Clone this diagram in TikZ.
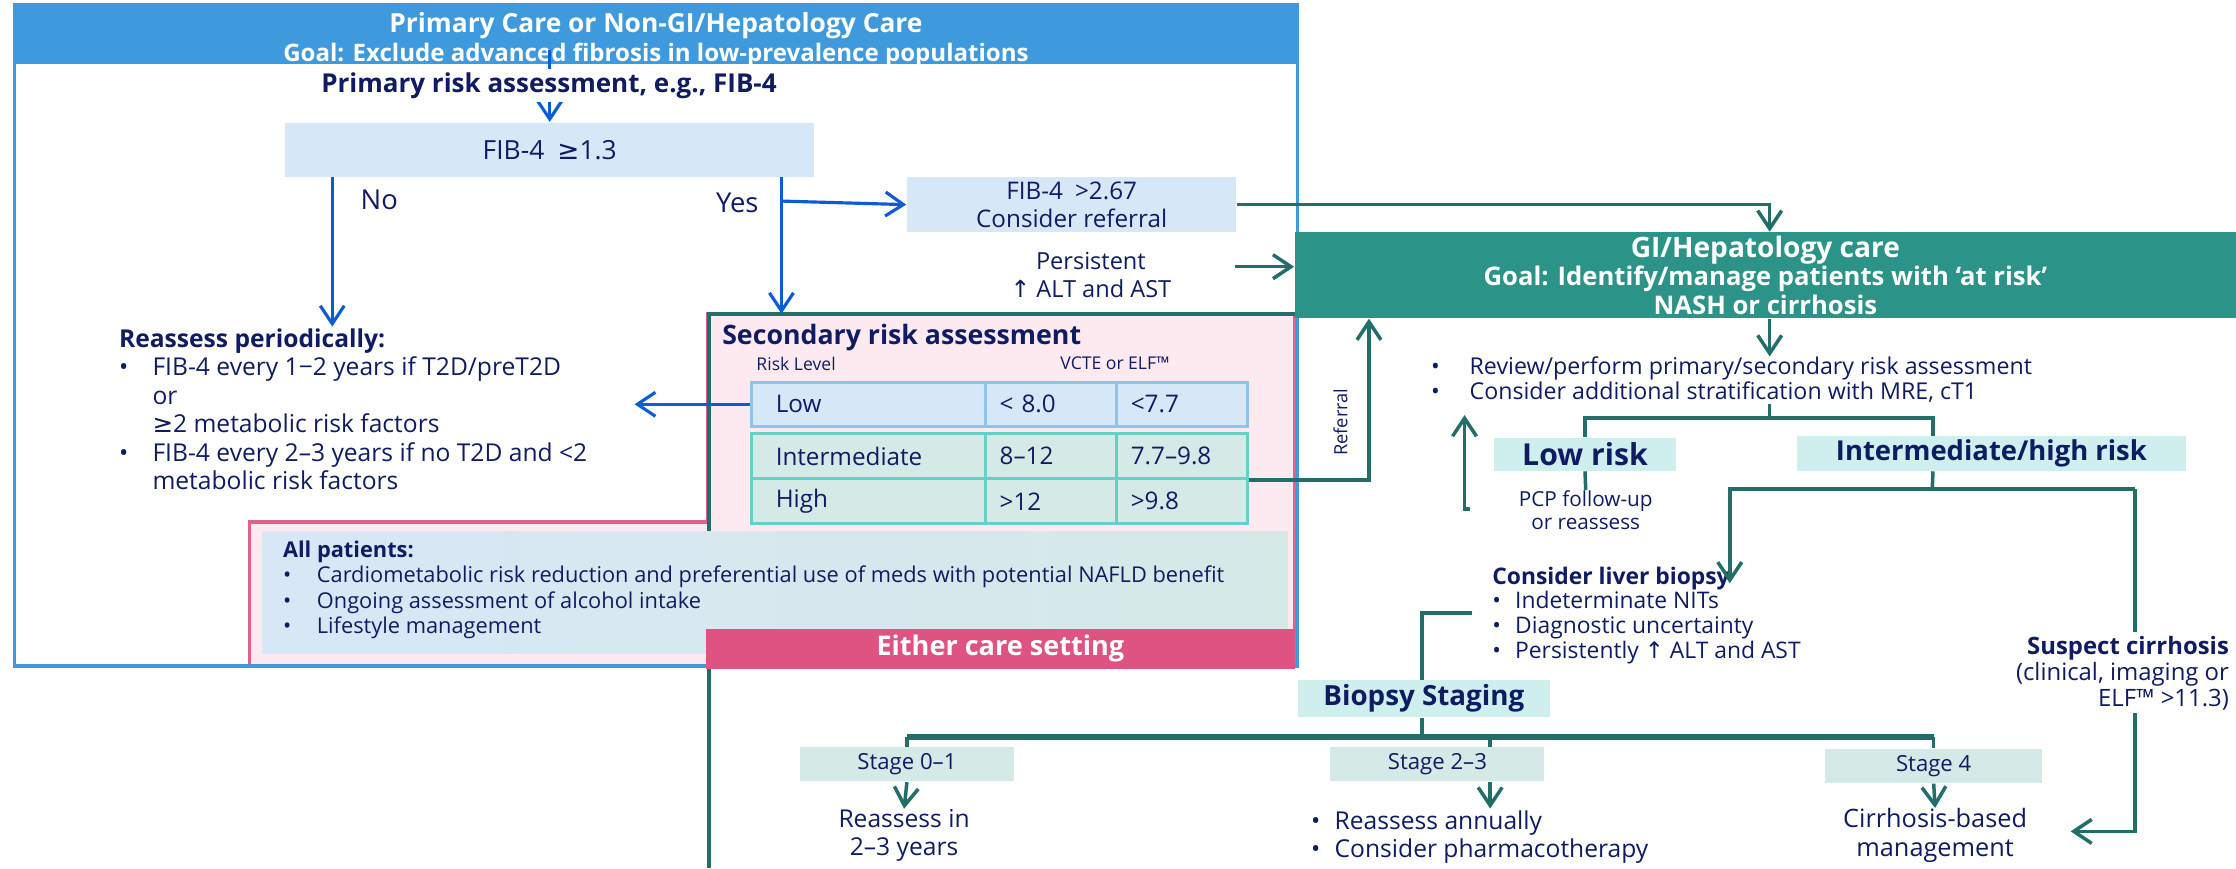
\documentclass[tikz,border=0pt]{standalone}
\usepackage{fontspec}
\setmainfont{Open Sans}
\newfontfamily\symfont{DejaVu Sans}
\newcommand\upa{{\symfont ↑}}
\newcommand\geqs{{\symfont ≥}}
\usetikzlibrary{arrows.meta,positioning}
\newlength\pu
\setlength\pu{0.1426mm}
\definecolor{cblue}{HTML}{3F99DD}
\definecolor{carrow}{HTML}{0B5CD6}
\definecolor{cnavy}{HTML}{0F1C64}
\definecolor{cteal}{HTML}{2B9387}
\definecolor{cline}{HTML}{226E68}
\definecolor{cpink}{HTML}{E0608A}
\definecolor{cpinkbg}{HTML}{FCEAF0}
\definecolor{cpbar}{HTML}{DE5381}
\definecolor{clb}{HTML}{D6E8F7}
\definecolor{clbb}{HTML}{8EC3EC}
\definecolor{cmint}{HTML}{D5E9E7}
\definecolor{cmintb}{HTML}{66D0C7}
\definecolor{ccyan}{HTML}{CEEFEE}
\definecolor{callb}{HTML}{D8E7F6}
\tikzset{
    fs/.style 2 args={font=\fontsize{#1}{#2}\selectfont},
    fsb/.style 2 args={font=\bfseries\fontsize{#1}{#2}\selectfont},
    bbox/.style={fill=clb, inner sep=0, align=center},
    cbox/.style={fill=ccyan, inner sep=0},
    sbox/.style={fill=cmint, inner sep=0, fs={6.3}{7.5}},
    rowlo/.style={draw=clbb, fill=clb, line width=.8pt, minimum height=31\pu, inner ysep=0, align=left, fs={6.9}{8}},
    rowhi/.style={draw=cmintb, fill=cmint, line width=.8pt, minimum height=31.5\pu, inner ysep=0, align=left, fs={6.9}{8}},
    barr/.style={draw=carrow, line width=.9pt, ->},
    tarr/.style={draw=cline, line width=1pt, ->},
    tln/.style={draw=cline, line width=1pt}
}

\begin{document}
\begin{tikzpicture}[x=\pu, y=-\pu, every node/.style={text=cnavy},
    >={Straight Barb[length=1.8mm,width=2.4mm]}]
\useasboundingbox (0,0) rectangle (1568,609);

% care setting regions
\draw[draw=cpink, fill=cpinkbg, line width=.9pt] (175,366) -- (496,366) -- (496,220) -- (908,220) -- (908,467) -- (175,467) -- cycle;
\draw[tln, line width=1.2pt] (497,609) -- (497,220) -- (908,220);
\node[draw=cblue, line width=1pt, minimum width=900\pu, minimum height=464\pu, inner sep=0] (pcare) at (460,235) {};
\node[fill=cblue, minimum width=900\pu, minimum height=42\pu, inner sep=0] (hdr) at (460,24) {};
\node[align=center, inner sep=0, text=white, fsb={7.5}{8.2}] (hdrt) at (460,28)
    {Primary Care or Non-GI/Hepatology Care\\{\fontsize{6.85}{8.2}\selectfont Goal: Exclude advanced fibrosis in low-prevalence populations}};

% primary assessment
\node[bbox, minimum width=371\pu, minimum height=38\pu, fs={7.5}{9}] (fib) at (385.5,105) {FIB-4\enspace\geqs1.3};
\coordinate (ctop) at (385.5,35);
\draw[barr] (ctop) -- (fib.north);
\node[fill=white, inner sep=1pt, fsb={7.4}{8.5}] (pra) at (385,60) {Primary risk assessment, e.g., FIB-4};

\node[fs={7.8}{9}] (no) at (266,140) {No};
\node[fs={7.8}{9}] (yes) at (517,142) {Yes};

\node[fs={7}{8.1}, anchor=north west, inner sep=0, align=left] (reas) at (83,229) {%
    \begin{tabular}{@{}l@{\hspace{17\pu}}l@{}}
    \multicolumn{2}{@{}l}{\bfseries Reassess periodically:}\\
    • & FIB-4 every 1−2 years if T2D/preT2D\\
      & or\\
      & \geqs2 metabolic risk factors\\
    • & FIB-4 every 2–3 years if no T2D and <2\\
      & metabolic risk factors
    \end{tabular}};
\coordinate (cno) at (233,124);
\draw[barr] (cno) -- (cno |- reas.north);

\coordinate (cyes) at (548,124);
\coordinate (cyb) at (548,141);
\coordinate (csec) at (548,220);
\draw[barr] (cyes) -- (csec);

\node[bbox, minimum width=231\pu, minimum height=39\pu, fs={6.9}{8}] (fib2) at (751.5,143.5) {FIB-4\enspace>2.67\\Consider referral};
\draw[barr] (cyb) -- (fib2.west);

\node[fs={6.7}{8.1}, align=center] (pers) at (765,193) {Persistent\\\upa\ ALT and AST};

% secondary assessment
\node[fsb={7.6}{9}, anchor=west, inner sep=0] (sra) at (506,237) {Secondary risk assessment};
\node[fs={5}{6}, anchor=west, inner sep=0] (rl) at (530,255) {Risk Level};
\node[fs={5}{6}, inner sep=0] (vc) at (782,255) {VCTE or ELF™};
\foreach \r/\y/\s/\a/\b/\c in {lo/283.5/rowlo/Low/< 8.0/<7.7, md/320/rowhi/Intermediate/8–12/7.7–9.8, hi/351.5/rowhi/High/>12/>9.8}{
    \node[\s, minimum width=164\pu, inner xsep=17\pu, text width=130\pu] (\r1) at (609,\y) {\a};
    \node[\s, minimum width=92\pu, inner xsep=10\pu, text width=72\pu] (\r2) at (737,\y) {\b};
    \node[\s, minimum width=92\pu, inner xsep=10\pu, text width=72\pu] (\r3) at (829,\y) {\c};
}
\coordinate (clow) at (445,283.5);
\draw[barr] (lo1.west) -- (clow);

% all patients
\node[left color=callb, right color=cmint, minimum width=719\pu, minimum height=85\pu, inner sep=0] (allp) at (543.5,415.5) {};
\node[fs={6.2}{7.2}, anchor=north west, inner sep=0, align=left] (allt) at (198,378) {%
    \begin{tabular}{@{}l@{\hspace{18\pu}}l@{}}
    \multicolumn{2}{@{}l}{\bfseries All patients:}\\
    • & Cardiometabolic risk reduction and preferential use of meds with potential NAFLD benefit\\
    • & Ongoing assessment of alcohol intake\\
    • & Lifestyle management
    \end{tabular}};
\node[fill=cpbar, minimum width=413\pu, minimum height=28\pu, inner sep=0, text=white, fsb={7.7}{9}] (either) at (701.5,455) {Either care setting};

% GI/Hepatology care
\node[fill=cteal, minimum width=660\pu, minimum height=60\pu, inner sep=0, align=center, text=white, fsb={7.3}{8.1}] (gi) at (1238,193)
    {{\fontsize{8}{8.1}\selectfont GI/Hepatology care}\\Goal: Identify/manage patients with ‘at risk’\\NASH or cirrhosis};
\draw[tarr] (fib2.east) -| ([xshift=3\pu]gi.north);
\coordinate (cpa) at (866,187);
\draw[tarr] (cpa) -- (cpa -| gi.west);

\coordinate (cref) at (960,0);
\draw[tarr] (md3.south east) -| (cref |- gi.south);
\node[fs={5.2}{6}, rotate=90, inner sep=0] (refl) at (940,296) {Referral};

\node[fs={6.6}{6.9}, anchor=north west, inner sep=0, align=left] (rev) at (1003,250) {%
    \begin{tabular}{@{}l@{\hspace{21\pu}}l@{}}
    • & Review/perform primary/secondary risk assessment\\
    • & Consider additional stratification with MRE, cT1
    \end{tabular}};
\draw[tarr] ([xshift=3\pu]gi.south) -- ([xshift=3\pu]gi.south |- rev.north);

\node[cbox, fsb={8.6}{9}, minimum width=127\pu, minimum height=23\pu] (lowr) at (1111.5,318.5) {Low risk};
\node[cbox, fsb={7.8}{9}, minimum width=273\pu, minimum height=24\pu] (ihr) at (1396.5,318) {Intermediate/high risk};
\coordinate (ct1) at (1241,283);
\coordinate (ct2) at (1241,293);
\draw[tln] (ct1) -- (ct2);
\draw[tln] (lowr.north) |- (ct2) -| ([xshift=-41\pu]ihr.north);

\node[fs={5.9}{6.6}, align=center, inner sep=0] (pcp) at (1112,358) {PCP follow-up\\or reassess};
\draw[tln] (lowr.south) -- (pcp.north);
\coordinate (cup) at (1027,357);
\draw[tarr] ([xshift=4\pu]cup) -- (cup) -- ([yshift=-5\pu]cup |- rev.south);

% liver biopsy
\node[fs={6.5}{7}, anchor=north west, inner sep=0, align=left] (lb) at (1046,397) {%
    \begin{tabular}{@{}l@{\hspace{10\pu}}l@{}}
    \multicolumn{2}{@{}l}{\bfseries Consider liver biopsy}\\
    • & Indeterminate NITs\\
    • & Diagnostic uncertainty\\
    • & Persistently \upa\ ALT and AST
    \end{tabular}};
\coordinate (ci2) at (1355,343);
\coordinate (ca) at (1213,343);
\coordinate (cb) at (1497,343);
\draw[tln] ([xshift=-41\pu]ihr.south) -- (ci2);
\draw[tarr] (cb) -- (ca) -- ([yshift=-12\pu]ca |- lb.north);

\node[cbox, fsb={7.9}{9}, minimum width=177\pu, minimum height=26\pu] (bst) at (998.5,490) {Biopsy Staging};
\coordinate (cl) at (1032,430);
\draw[tln] (cl) -| ([xshift=-1.5\pu]bst.north);

% staging
\node[sbox, minimum width=150\pu, minimum height=24\pu] (st1) at (636,536) {Stage 0–1};
\node[sbox, minimum width=150\pu, minimum height=24\pu] (st2) at (1008,536) {Stage 2–3};
\node[sbox, minimum width=152\pu, minimum height=24\pu] (st3) at (1356,537) {Stage 4};
\coordinate (cs) at (997,517);
\draw[tln] ([xshift=-1.5\pu]bst.south) -- (cs);
\draw[tln, line width=1.8pt] (st1.north |- cs) -- (st3.north |- cs);
\draw[tln] (st1.north |- cs) -- (st1.north);
\draw[tln] ([xshift=37\pu]st2.north |- cs) -- ([xshift=37\pu]st2.north);
\draw[tln] (st3.north |- cs) -- (st3.north);

\node[fs={7}{8.1}, align=center, inner sep=0] (o1) at (634,586) {Reassess in\\2–3 years};
\node[fs={7}{8.1}, anchor=north west, inner sep=0, align=left] (o2) at (919,567) {%
    \begin{tabular}{@{}l@{\hspace{10\pu}}l@{}}
    • & Reassess annually\\
    • & Consider pharmacotherapy
    \end{tabular}};
\node[fs={7.2}{8.1}, align=center, inner sep=0] (o3) at (1357,586) {Cirrhosis-based\\management};
\draw[tarr] (st1.south) -- (o1.north);
\draw[tarr] ([xshift=37\pu]st2.south) -- ([xshift=37\pu]st2.south |- o2.north);
\draw[tarr] (st3.south) -- (o3.north);

% suspect cirrhosis
\coordinate (cc) at (1497,583);
\coordinate (ccend) at (1452,583);
\draw[tarr] (cb) -- (cc) -- (ccend);
\node[fs={6.8}{7.4}, anchor=north east, align=right, fill=white, inner sep=1pt] (susp) at (1566,443)
    {{\bfseries Suspect cirrhosis}\\(clinical, imaging or\\ELF™ >11.3)};
\end{tikzpicture}
\end{document}
